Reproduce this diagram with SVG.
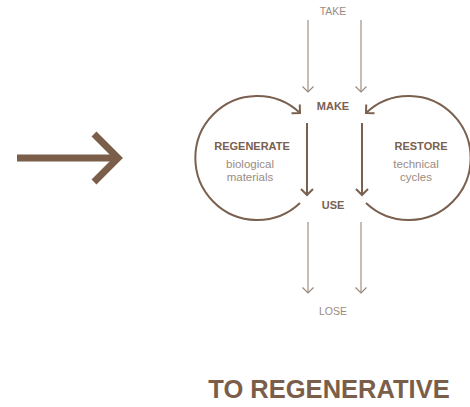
<svg xmlns="http://www.w3.org/2000/svg" width="470" height="407" viewBox="0 0 470 407">
<style>
.lbl{font-family:"Liberation Sans",Arial,sans-serif;font-weight:bold;font-size:11px;fill:#7a604f;text-anchor:middle}
.sub{font-family:"Liberation Sans",Arial,sans-serif;font-size:11.5px;fill:#9a8b82;text-anchor:middle}
.ext{font-family:"Liberation Sans",Arial,sans-serif;font-size:10.5px;fill:#9a8b82;text-anchor:middle}
.thin{fill:none;stroke:#968578;stroke-width:1.1}
.bold{fill:none;stroke:#7a604f;stroke-width:2}
.title{font-family:"Liberation Sans",Arial,sans-serif;font-weight:bold;font-size:25.5px;fill:#7b5e4a;text-anchor:middle}
</style>
<defs>
<marker id="ht" markerUnits="userSpaceOnUse" markerWidth="14" markerHeight="14" refX="7" refY="7" orient="auto" viewBox="0 0 14 14">
<path d="M1.5,1.5 L7,7 L1.5,12.5" fill="none" stroke="#968578" stroke-width="1.1"/>
</marker>
<marker id="hb" markerUnits="userSpaceOnUse" markerWidth="16" markerHeight="16" refX="8" refY="8" orient="auto" viewBox="0 0 16 16">
<path d="M2,2 L8,8 L2,14" fill="none" stroke="#7a604f" stroke-width="2"/>
</marker>
</defs>
<g id="big-arrow">
<line x1="17" y1="158" x2="118" y2="158" stroke="#7b5e4a" stroke-width="7"/>
<polyline points="94,134 118,158 94,182" fill="none" stroke="#7b5e4a" stroke-width="7"/>
</g>
<g id="connectors">
<line class="thin" x1="308" y1="20" x2="308" y2="92" marker-end="url(#ht)"/>
<line class="thin" x1="361" y1="20" x2="361" y2="92" marker-end="url(#ht)"/>
<line class="bold" x1="307" y1="123" x2="307" y2="195" marker-end="url(#hb)"/>
<line class="bold" x1="362" y1="123" x2="362" y2="195" marker-end="url(#hb)"/>
<line class="thin" x1="308" y1="222" x2="308" y2="293" marker-end="url(#ht)"/>
<line class="thin" x1="361" y1="222" x2="361" y2="293" marker-end="url(#ht)"/>
<path class="bold" d="M300,203 A62,62 0 1 1 300,113" marker-end="url(#hb)"/>
<path class="bold" d="M366,203 A62,62 0 1 0 366,113" marker-end="url(#hb)"/>
</g>
<g id="take"><text class="ext" x="333" y="15">TAKE</text></g>
<g id="make"><text class="lbl" x="333" y="110">MAKE</text></g>
<g id="use"><text class="lbl" x="333" y="209">USE</text></g>
<g id="lose"><text class="ext" x="333" y="315">LOSE</text></g>
<g id="regenerate">
<text class="lbl" x="252" y="150">REGENERATE</text>
<text class="sub" x="250" y="168">biological</text>
<text class="sub" x="250" y="181">materials</text>
</g>
<g id="restore">
<text class="lbl" x="421" y="150">RESTORE</text>
<text class="sub" x="416" y="168">technical</text>
<text class="sub" x="416" y="181">cycles</text>
</g>
<text class="title" x="329" y="398">TO REGENERATIVE</text>
</svg>
